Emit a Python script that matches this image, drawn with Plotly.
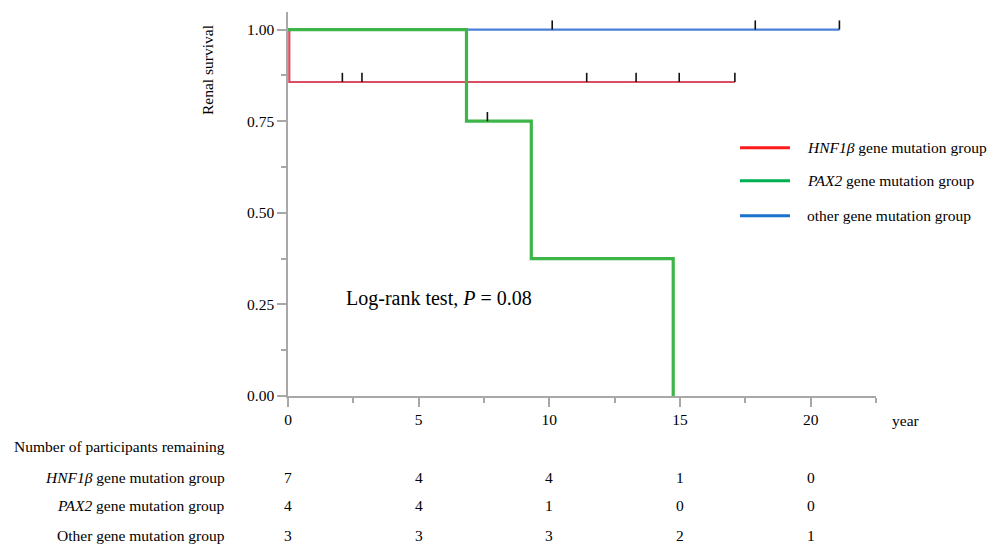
import plotly.graph_objects as go

# ---------------- data ----------------
group_names = ["<i>HNF1β</i> gene mutation group",
               "<i>PAX2</i> gene mutation group",
               "other gene mutation group"]
table_names = ["<i>HNF1β</i> gene mutation group",
               "<i>PAX2</i> gene mutation group",
               "Other gene mutation group"]

# Kaplan-Meier step curves (time in years, survival)
hnf_t = [0.0, 0.05, 17.1]
hnf_s = [1.0, 0.857, 0.857]
hnf_cens = [2.08, 2.83, 11.43, 13.32, 14.97, 17.1]

pax_t = [0.0, 6.83, 9.31, 14.74]
pax_s = [1.0, 0.75, 0.375, 0.0]
pax_cens = [7.63]

oth_t = [0.0, 21.1]
oth_s = [1.0, 1.0]
oth_cens = [10.11, 17.88, 21.1]

# number at risk table
risk_times = [0, 5, 10, 15, 20]
risk_hnf = [7, 4, 4, 1, 0]
risk_pax = [4, 4, 1, 0, 0]
risk_oth = [3, 3, 3, 2, 1]

# ---------------- styles ----------------
FONT = "Times New Roman, Liberation Serif, serif"
curve_colors = ["#db4d63", "#3db549", "#4a80d8"]
legend_colors = ["#ff1a1a", "#00b050", "#1a70cc"]
curve_widths = [2.2, 3.2, 2.2]
AXIS_COLOR = "#a8a8a8"
TXT = 15.5


def surv_at(ts, ss, t):
    val = ss[0]
    for ti, si in zip(ts, ss):
        if ti <= t:
            val = si
    return val


curves = [(hnf_t, hnf_s, hnf_cens), (pax_t, pax_s, pax_cens), (oth_t, oth_s, oth_cens)]

fig = go.Figure()

# draw order: other (blue), HNF1b (red), PAX2 (green)
for idx in [2, 0, 1]:
    ts, ss, cens = curves[idx]
    fig.add_trace(go.Scatter(
        x=ts, y=ss, mode="lines", line_shape="hv",
        line=dict(color=curve_colors[idx], width=curve_widths[idx]),
        showlegend=False, hoverinfo="skip"))

# censor marks
for idx in [2, 0, 1]:
    ts, ss, cens = curves[idx]
    cy = [surv_at(ts, ss, c) for c in cens]
    fig.add_trace(go.Scatter(
        x=cens, y=cy, mode="markers",
        marker=dict(size=1, color="rgba(0,0,0,0)"),
        error_y=dict(type="data", symmetric=False,
                     array=[0.025] * len(cens), arrayminus=[0] * len(cens),
                     width=0, thickness=1.6, color="#111111"),
        showlegend=False, hoverinfo="skip"))

annotations = []
shapes = []

# manual legend
leg_y = [0.6466, 0.5604, 0.4695]
for name, col, yy in zip(group_names, legend_colors, leg_y):
    shapes.append(dict(type="line", xref="paper", yref="paper",
                       x0=0.7687, x1=0.8537, y0=yy, y1=yy,
                       line=dict(color=col, width=3)))
    annotations.append(dict(xref="paper", yref="paper", x=0.879, y=yy,
                            text=name, showarrow=False, xanchor="left",
                            yanchor="middle", font=dict(size=TXT, color="black")))

# y-axis title
annotations.append(dict(xref="paper", yref="paper", x=-0.136, y=0.849,
                        text="Renal survival", textangle=-90, showarrow=False,
                        xanchor="center", yanchor="middle",
                        font=dict(size=15.5, color="black")))
# x-axis unit label
annotations.append(dict(xref="paper", yref="paper", x=1.023, y=-0.064,
                        text="year", showarrow=False, xanchor="left",
                        yanchor="middle", font=dict(size=15.5, color="black")))
# log-rank text
annotations.append(dict(xref="paper", yref="paper", x=0.257, y=0.255,
                        text="Log-rank test, <i>P</i> = 0.08", showarrow=False,
                        xanchor="center", yanchor="middle",
                        font=dict(size=20, color="black")))

# risk table
annotations.append(dict(xref="paper", yref="paper", x=-0.1037, y=-0.132,
                        text="Number of participants remaining", showarrow=False,
                        xanchor="right", yanchor="middle",
                        font=dict(size=TXT, color="black")))
row_y = [-0.2135, -0.2855, -0.3635]
for name, counts, yy in zip(table_names, [risk_hnf, risk_pax, risk_oth], row_y):
    annotations.append(dict(xref="paper", yref="paper", x=-0.1037, y=yy,
                            text=name, showarrow=False, xanchor="right",
                            yanchor="middle", font=dict(size=TXT, color="black")))
    for t, c in zip(risk_times, counts):
        annotations.append(dict(xref="x", yref="paper", x=t, y=yy,
                                text=str(c), showarrow=False, xanchor="center",
                                yanchor="middle", font=dict(size=TXT, color="black")))

fig.update_layout(
    width=1002, height=545,
    margin=dict(l=288, r=126, t=12, b=149),
    paper_bgcolor="white", plot_bgcolor="white",
    font=dict(family=FONT, color="black", size=16),
    showlegend=False,
    annotations=annotations, shapes=shapes,
    xaxis=dict(range=[0, 22.5], tickmode="array", tickvals=risk_times,
               ticktext=[str(t) for t in risk_times],
               ticks="outside", ticklen=9, tickwidth=1.5, tickcolor=AXIS_COLOR,
               minor=dict(dtick=2.5, ticks="outside", ticklen=5, tickwidth=1.5,
                          tickcolor=AXIS_COLOR),
               showline=True, linecolor=AXIS_COLOR, linewidth=1.5,
               showgrid=False, zeroline=False,
               tickfont=dict(size=15.5, color="black")),
    yaxis=dict(range=[0, 1.048], tickmode="array",
               tickvals=[0, 0.25, 0.5, 0.75, 1.0],
               ticktext=["0.00", "0.25", "0.50", "0.75", "1.00"],
               ticks="outside", ticklen=9, tickwidth=1.5, tickcolor=AXIS_COLOR,
               minor=dict(dtick=0.125, ticks="outside", ticklen=5, tickwidth=1.5,
                          tickcolor=AXIS_COLOR),
               showline=True, linecolor=AXIS_COLOR, linewidth=1.5,
               showgrid=False, zeroline=False,
               tickfont=dict(size=15.5, color="black")),
)

fig.write_html("out.html",
               config={"displayModeBar": False},
               post_script="document.body.style.margin='0';"
                           "document.body.style.overflow='hidden';")
